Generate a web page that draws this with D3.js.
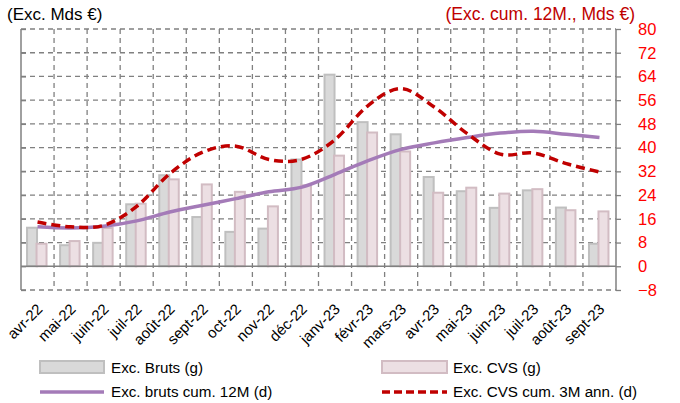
<!DOCTYPE html>
<html>
<head>
<meta charset="utf-8">
<script src="https://cdn.jsdelivr.net/npm/d3@7"></script>
<style>
  body { margin: 0; background: #fff; }
  svg { font-family: "Liberation Sans", Arial, sans-serif; }
</style>
</head>
<body>
<div id="chart"></div>
<script>
const months = ['avr-22', 'mai-22', 'juin-22', 'juil-22', 'août-22', 'sept-22', 'oct-22', 'nov-22', 'déc-22',
  'janv-23', 'févr-23', 'mars-23', 'avr-23', 'mai-23', 'juin-23', 'juil-23', 'août-23', 'sept-23'];

// bars (left axis, g)
const bruts = [13.0, 7.1, 7.9, 20.9, 30.7, 16.6, 11.6, 12.7, 36.0, 64.6, 48.6, 44.5, 30.1, 25.3, 19.7, 25.6, 19.8, 7.6];
const cvs = [7.6, 8.5, 12.9, 21.1, 29.3, 27.6, 25.1, 20.2, 27.3, 37.3, 45.1, 38.7, 24.8, 26.5, 24.5, 26.0, 18.9, 18.5];

// lines (right axis, d)
const brutsCum12 = [13.3, 12.9, 13.5, 15.3, 18.3, 20.6, 22.8, 25.1, 26.7, 31.0, 35.6, 39.4, 41.6, 43.4, 44.9, 45.5, 44.5, 43.4];
const cvsCum3 = [14.9, 13.3, 13.8, 20.2, 31.2, 38.5, 40.5, 36.0, 36.1, 42.7, 54.2, 59.9, 53.7, 44.7, 37.8, 38.2, 34.6, 31.8];

const yTicks = d3.range(-8, 81, 8);

const legendItems = ['Exc. Bruts (g)', 'Exc. CVS (g)', 'Exc. bruts cum. 12M (d)', 'Exc. CVS cum. 3M ann. (d)'];

const w = 680;
const h = 403;
const pLeft = 21, pRight = 616, pTop = 29, pBottom = 290;

const gridColor = '#808080';
const redColor = '#c00000';
const purpleColor = '#a47bb8';

const svg = d3.select('#chart')
  .append('svg')
  .attr('width', w)
  .attr('height', h);

const x = d3.scaleBand(months, [pLeft, pRight]);
const y = d3.scaleLinear([-8, 80], [pBottom, pTop]);

// horizontal dashed grid
svg.append('g')
  .selectAll('line')
  .data(yTicks.filter(d => d !== 0))
  .join('line')
  .attr('x1', pLeft).attr('x2', pRight)
  .attr('y1', d => y(d)).attr('y2', d => y(d))
  .attr('stroke', gridColor)
  .attr('stroke-width', 1.3)
  .attr('stroke-dasharray', '5,4');

// vertical dashed grid at category boundaries
svg.append('g')
  .selectAll('line')
  .data(months.slice(1))
  .join('line')
  .attr('x1', d => x(d)).attr('x2', d => x(d))
  .attr('y1', pTop).attr('y2', pBottom)
  .attr('stroke', gridColor)
  .attr('stroke-width', 1.3)
  .attr('stroke-dasharray', '5,4');

// left axis line with inside ticks
svg.append('g')
  .attr('transform', 'translate(' + pLeft + ',0)')
  .call(d3.axisRight(y).tickValues(yTicks).tickSize(5).tickFormat(''))
  .call(g => g.select('.domain').attr('stroke', gridColor).attr('stroke-width', 1.5).attr('d', 'M0,' + pTop + 'V' + pBottom))
  .call(g => g.selectAll('.tick line').attr('stroke', gridColor).attr('stroke-width', 1.3));

// bars
const bw = 10;
svg.append('g')
  .selectAll('rect')
  .data(bruts)
  .join('rect')
  .attr('x', (d, i) => x(months[i]) + x.bandwidth() / 2 - bw - 0.5)
  .attr('y', d => y(Math.max(0, d)))
  .attr('width', bw)
  .attr('height', d => Math.abs(y(d) - y(0)))
  .attr('fill', '#d9d9d9')
  .attr('stroke', '#bfbfbf')
  .attr('stroke-width', 2);

svg.append('g')
  .selectAll('rect')
  .data(cvs)
  .join('rect')
  .attr('x', (d, i) => x(months[i]) + x.bandwidth() / 2 - 1)
  .attr('y', d => y(Math.max(0, d)))
  .attr('width', bw)
  .attr('height', d => Math.abs(y(d) - y(0)))
  .attr('fill', '#ecdfe3')
  .attr('stroke', '#d2bcc3')
  .attr('stroke-width', 2);

// zero line
svg.append('line')
  .attr('x1', pLeft).attr('x2', pRight)
  .attr('y1', y(0)).attr('y2', y(0))
  .attr('stroke', gridColor)
  .attr('stroke-width', 1.5);

// right axis
svg.append('g')
  .attr('transform', 'translate(' + pRight + ',0)')
  .call(d3.axisRight(y).tickValues(yTicks).tickSize(5).tickPadding(17))
  .call(g => g.select('.domain').attr('stroke', gridColor).attr('stroke-width', 1.5).attr('d', 'M0,' + pTop + 'V' + pBottom))
  .call(g => g.selectAll('.tick line').attr('stroke', gridColor).attr('stroke-width', 1.3))
  .call(g => g.selectAll('.tick text')
    .attr('fill', '#ff0000')
    .attr('font-size', 16.5)
    .attr('font-family', null)
    .attr('text-anchor', 'start'));

// lines
const line = d3.line()
  .x((d, i) => x(months[i]) + x.bandwidth() / 2)
  .y(d => y(d))
  .curve(d3.curveCatmullRom.alpha(0));

svg.append('path')
  .attr('d', line(brutsCum12))
  .attr('fill', 'none')
  .attr('stroke', purpleColor)
  .attr('stroke-width', 3.5);

svg.append('path')
  .attr('d', line(cvsCum3))
  .attr('fill', 'none')
  .attr('stroke', redColor)
  .attr('stroke-width', 3.5)
  .attr('stroke-dasharray', '9,5');

// x labels
svg.append('g')
  .attr('transform', 'translate(0,' + pBottom + ')')
  .call(d3.axisBottom(x).tickSize(0).tickPadding(0))
  .call(g => g.select('.domain').remove())
  .call(g => g.selectAll('.tick text')
    .attr('font-size', 15)
    .attr('font-family', null)
    .attr('fill', '#000')
    .attr('text-anchor', 'end')
    .attr('dy', null)
    .attr('y', 0)
    .attr('transform', 'translate(6,20) rotate(-45)'));

// titles
svg.append('text')
  .text('(Exc. Mds €)')
  .attr('x', 7)
  .attr('y', 20)
  .attr('font-size', 17)
  .attr('fill', '#000');

svg.append('text')
  .text('(Exc. cum. 12M., Mds €)')
  .attr('x', 635)
  .attr('y', 20)
  .attr('text-anchor', 'end')
  .attr('font-size', 17.5)
  .attr('fill', redColor);

// legend
const legend = svg.append('g').attr('font-size', 15.2).attr('fill', '#000');

const leg1 = legend.append('g').attr('transform', 'translate(40,361)');
leg1.append('rect').attr('width', 64).attr('height', 12).attr('fill', '#d9d9d9').attr('stroke', '#bfbfbf').attr('stroke-width', 2);
leg1.append('text').attr('x', 71).attr('y', 11.5).text(legendItems[0]);

const leg2 = legend.append('g').attr('transform', 'translate(382,361)');
leg2.append('rect').attr('width', 65).attr('height', 12).attr('fill', '#ecdfe3').attr('stroke', '#d2bcc3').attr('stroke-width', 2);
leg2.append('text').attr('x', 71).attr('y', 11.5).text(legendItems[1]);

const leg3 = legend.append('g').attr('transform', 'translate(40,392)');
leg3.append('line').attr('x1', 0).attr('x2', 64).attr('stroke', purpleColor).attr('stroke-width', 3.5);
leg3.append('text').attr('x', 71).attr('y', 5).text(legendItems[2]);

const leg4 = legend.append('g').attr('transform', 'translate(382,392)');
leg4.append('line').attr('x1', 0).attr('x2', 65).attr('stroke', redColor).attr('stroke-width', 3.5).attr('stroke-dasharray', '8,4');
leg4.append('text').attr('x', 71).attr('y', 5).text(legendItems[3]);
</script>
</body>
</html>
